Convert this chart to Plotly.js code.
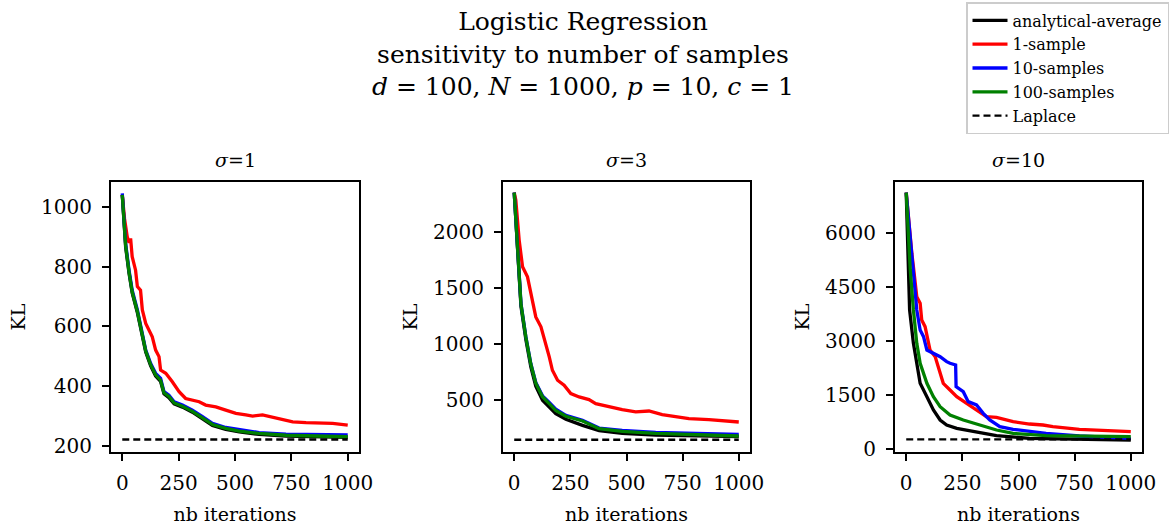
<!DOCTYPE html>
<html>
<head>
<meta charset="utf-8">
<script src="https://cdn.plot.ly/plotly-3.0.1.min.js"></script>
<style>html,body{margin:0;padding:0;background:#fff;}</style>
</head>
<body>
<div id="chart" style="width:1175px;height:525px;"></div>
<script>
// ---------- data ----------
// sigma = 1
const s1_red_x   = [0, 10, 22, 30, 37, 44, 59, 67, 81, 89, 104, 133, 148, 163, 170, 193, 222, 252, 281, 341, 370, 415, 459, 504, 548, 578, 622, 667, 726, 756, 815, 933, 1000];
const s1_red_y   = [1040, 960, 900, 880, 894, 833, 788, 733, 721, 655, 610, 565, 521, 499, 454, 443, 415, 382, 359, 348, 337, 331, 320, 309, 304, 300, 304, 296, 287, 281, 278, 276, 270];
const s1_x       = [0, 15, 30, 44, 67, 89, 104, 126, 148, 170, 185, 207, 230, 267, 311, 356, 400, 459, 519, 607, 726, 1000];
const s1_blue_y  = [1045, 877, 788, 721, 655, 577, 521, 476, 443, 426, 382, 370, 348, 337, 320, 298, 276, 262, 254, 245, 240, 237];
const s1_green_y = [1040, 870, 782, 715, 650, 572, 518, 472, 438, 420, 378, 366, 344, 333, 316, 294, 272, 259, 250, 242, 236, 231];
const s1_black_y = [1040, 865, 778, 712, 646, 568, 514, 468, 434, 416, 375, 362, 341, 330, 313, 291, 269, 256, 247, 239, 233, 229];
const s1_laplace = 222;

// sigma = 3
const s3_red_x   = [0, 7, 22, 37, 59, 74, 96, 119, 141, 156, 170, 193, 222, 252, 289, 333, 363, 422, 481, 541, 600, 659, 719, 778, 867, 1000];
const s3_red_y   = [2355, 2289, 1931, 1693, 1603, 1454, 1245, 1156, 1007, 888, 768, 679, 634, 560, 530, 506, 470, 440, 416, 396, 404, 372, 357, 336, 327, 306];
const s3_x       = [0, 15, 30, 52, 74, 96, 126, 156, 185, 230, 304, 378, 481, 630, 1000];
const s3_blue_y  = [2355, 1812, 1365, 1066, 827, 660, 540, 480, 420, 365, 322, 252, 230, 212, 196];
const s3_green_y = [2355, 1805, 1360, 1060, 822, 652, 532, 470, 410, 357, 315, 246, 222, 204, 181];
const s3_black_y = [2355, 1790, 1340, 1040, 798, 625, 500, 440, 381, 330, 276, 230, 205, 190, 175];
const s3_laplace = 148;

// sigma = 10
const s10_red_x   = [0, 10, 25, 32, 47, 62, 69, 84, 92, 106, 129, 151, 165, 195, 225, 269, 313, 357, 402, 476, 549, 609, 653, 771, 1000];
const s10_red_y   = [7133, 6371, 5443, 5071, 4235, 4049, 3585, 3399, 3121, 2749, 2563, 2099, 1820, 1635, 1449, 1263, 1077, 892, 873, 752, 687, 659, 613, 539, 474];
const s10_blue_x  = [0, 18, 32, 47, 62, 77, 92, 121, 151, 180, 195, 220, 222, 254, 276, 313, 343, 372, 417, 476, 549, 623, 771, 1000];
const s10_blue_y  = [7133, 5907, 4792, 3864, 3306, 3121, 2749, 2656, 2563, 2424, 2378, 2331, 1728, 1588, 1310, 1217, 984, 799, 613, 539, 474, 427, 353, 288];
const s10_green_x = [0, 18, 32, 47, 62, 92, 121, 151, 195, 254, 328, 402, 476, 623, 1000];
const s10_green_y = [7133, 4978, 3864, 2935, 2378, 1820, 1449, 1170, 938, 799, 659, 520, 427, 362, 334];
const s10_black_x = [0, 12, 15, 32, 47, 62, 92, 121, 151, 180, 225, 298, 402, 549, 1000];
const s10_black_y = [7133, 4200, 3864, 2935, 2378, 1820, 1449, 1077, 799, 659, 567, 474, 362, 288, 241];
const s10_laplace = 260;

const laplace_x = [0, 1000];
const series_names = ["analytical-average", "1-sample", "10-samples", "100-samples", "Laplace"];
const sigma_labels = ["1", "3", "10"];
const y_ticks_1 = [200, 400, 600, 800, 1000];
const y_ticks_3 = [500, 1000, 1500, 2000];
const y_ticks_10 = [0, 1500, 3000, 4500, 6000];
const x_ticks = [0, 250, 500, 750, 1000];

// ---------- styling ----------
const FONT = "DejaVu Serif";
const colors = {black: "#000000", red: "#ff0000", blue: "#0000ff", green: "#008000"};
const LW = 3.3;

function line(x, y, color, name, ax, show, dash) {
  return {
    type: "scatter", mode: "lines", x: x, y: y, name: name,
    legendgroup: name, showlegend: show,
    xaxis: "x" + ax, yaxis: "y" + ax,
    line: {color: color, width: dash ? 2.4 : LW, dash: dash || "solid"},
    hoverinfo: "x+y"
  };
}

const panels = [
  {ax: "", bx: s1_x, black: s1_black_y, rx: s1_red_x, red: s1_red_y, blx: s1_x, blue: s1_blue_y, gx: s1_x, green: s1_green_y, lap: s1_laplace},
  {ax: "2", bx: s3_x, black: s3_black_y, rx: s3_red_x, red: s3_red_y, blx: s3_x, blue: s3_blue_y, gx: s3_x, green: s3_green_y, lap: s3_laplace},
  {ax: "3", bx: s10_black_x, black: s10_black_y, rx: s10_red_x, red: s10_red_y, blx: s10_blue_x, blue: s10_blue_y, gx: s10_green_x, green: s10_green_y, lap: s10_laplace}
];

const traces = [];
panels.forEach((p, i) => {
  const show = i === 0;
  traces.push(line(p.bx, p.black, colors.black, series_names[0], p.ax, show));
  traces.push(line(p.rx, p.red, colors.red, series_names[1], p.ax, show));
  traces.push(line(p.blx, p.blue, colors.blue, series_names[2], p.ax, show));
  traces.push(line(p.gx, p.green, colors.green, series_names[3], p.ax, show));
  traces.push(line(laplace_x, [p.lap, p.lap], colors.black, series_names[4], p.ax, show, "7px,4px"));
});

const W = 1175, H = 525;
const yDom = [1 - 452 / H, 1 - 182 / H];
const xDoms = [[111 / W, 359 / W], [503 / W, 750 / W], [895 / W, 1142 / W]];
const yRanges = [[180, 1083], [38, 2450], [-93, 7430]];
const yTicks = [y_ticks_1, y_ticks_3, y_ticks_10];

const layout = {
  width: W, height: H,
  margin: {l: 0, r: 0, t: 0, b: 0},
  paper_bgcolor: "#ffffff", plot_bgcolor: "#ffffff",
  font: {family: FONT, color: "#000000", size: 20},
  title: {
    text: "Logistic Regression<br>sensitivity to number of samples<br><i>d</i> = 100, <i>N</i> = 1000, <i>p</i> = 10, <i>c</i> = 1",
    font: {family: FONT, size: 25, color: "#000"},
    x: 583 / W, xanchor: "center", xref: "paper",
    y: 1, yanchor: "top", pad: {t: 30}
  },
  showlegend: true,
  legend: {
    x: 966 / W, y: 1 - 2 / H, xanchor: "left", yanchor: "top",
    bgcolor: "#ffffff", bordercolor: "#cccccc", borderwidth: 1.5,
    font: {family: FONT, size: 16, color: "#000"},
    itemwidth: 35, tracegroupgap: 0
  },
  annotations: []
};

xDoms.forEach((d, i) => {
  const sx = i === 0 ? "" : String(i + 1);
  layout["xaxis" + sx] = {
    domain: d, range: [-50, 1050], anchor: "y" + sx,
    tickvals: x_ticks, ticktext: x_ticks.map(String),
    ticks: "outside", ticklen: 7, tickwidth: 1.5, tickcolor: "#000",
    showline: true, linecolor: "#000", linewidth: 2, mirror: true,
    showgrid: false, zeroline: false, automargin: false,
    tickfont: {family: FONT, size: 20, color: "#000"},
    ticklabelstandoff: 5,
    title: {text: "nb iterations", font: {family: FONT, size: 19, color: "#000"}, standoff: 14}
  };
  layout["yaxis" + sx] = {
    domain: yDom, range: yRanges[i], anchor: "x" + sx,
    tickvals: yTicks[i], ticktext: yTicks[i].map(String),
    ticks: "outside", ticklen: 7, tickwidth: 1.5, tickcolor: "#000",
    showline: true, linecolor: "#000", linewidth: 2, mirror: true,
    showgrid: false, zeroline: false, automargin: false,
    tickfont: {family: FONT, size: 20, color: "#000"},
    ticklabelstandoff: 6,
    title: {text: "KL", font: {family: FONT, size: 19, color: "#000"}, standoff: 10}
  };
  layout.annotations.push({
    text: "<i>σ</i>=" + sigma_labels[i],
    xref: "paper", yref: "paper",
    x: (d[0] + d[1]) / 2, y: 1 - 160 / H,
    xanchor: "center", yanchor: "middle", showarrow: false,
    font: {family: FONT, size: 19, color: "#000"}
  });
});

Plotly.newPlot("chart", traces, layout, {displayModeBar: false, responsive: false});
</script>
</body>
</html>
